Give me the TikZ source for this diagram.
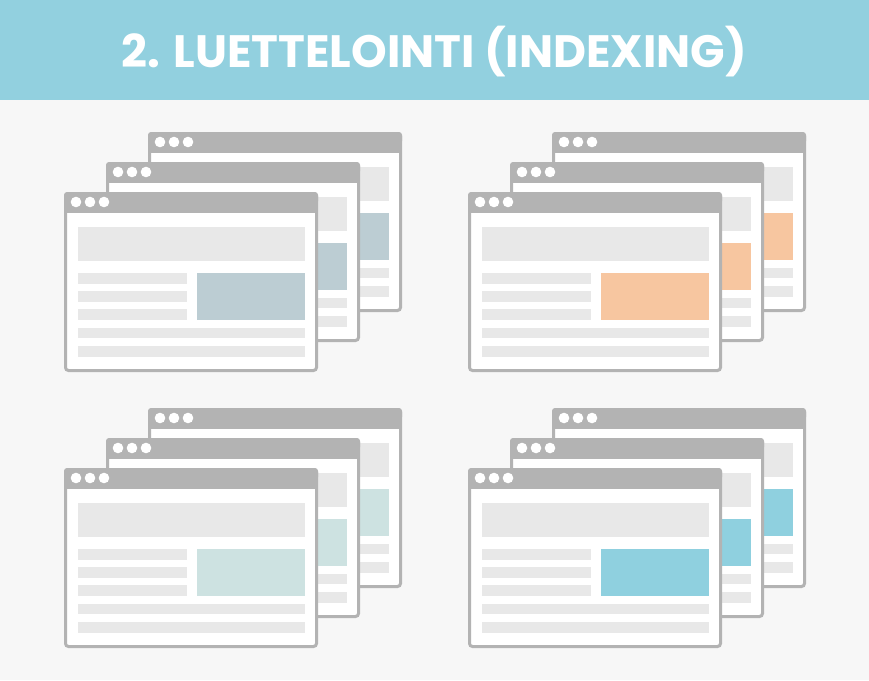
\documentclass[tikz,border=0pt]{standalone}
\usepackage{fontspec}
\newfontfamily\titlefont{Poppins}
\definecolor{headbg}{HTML}{92D0DF}
\definecolor{pagebg}{HTML}{F7F7F7}
\definecolor{frame}{HTML}{B3B3B3}
\definecolor{bar}{HTML}{E8E8E8}
\definecolor{cslate}{HTML}{BCCDD3}
\definecolor{cpeach}{HTML}{F7C6A0}
\definecolor{cmint}{HTML}{CDE2E1}
\definecolor{cblue}{HTML}{8FD0DF}
\tikzset{
  winframe/.style={draw=frame, line width=3pt, fill=white, rounded corners=3pt},
  titlebar/.style={fill=frame},
  windot/.style={fill=white},
  greybar/.style={fill=bar}
}
\newcommand\browserwin[3]{%
  \begin{scope}[shift={(#1,#2)}]
    \draw[winframe] (1.5,1.5) rectangle (252.5,178.5);
    \fill[titlebar, rounded corners=3pt] (0,0) rectangle (254,12);
    \fill[titlebar] (0,6) rectangle (254,21);
    \fill[windot] (12,10) circle (5.3);
    \fill[windot] (26,10) circle (5.3);
    \fill[windot] (40,10) circle (5.3);
    \fill[greybar] (14,35) rectangle (241,69);
    \fill[greybar] (14,81) rectangle (123,92);
    \fill[greybar] (14,99) rectangle (123,110);
    \fill[greybar] (14,117) rectangle (123,128);
    \fill[#3] (133,81) rectangle (241,128);
    \fill[greybar] (14,136) rectangle (241,146);
    \fill[greybar] (14,154) rectangle (241,165);
  \end{scope}}
\newcommand\browserstack[3]{%
  \browserwin{#1+84}{#2-60}{#3}%
  \browserwin{#1+42}{#2-30}{#3}%
  \browserwin{#1}{#2}{#3}}
\begin{document}
\begin{tikzpicture}[x=1pt,y=-1pt]
  \useasboundingbox (0,0) rectangle (869,680);
  \fill[pagebg] (0,0) rectangle (869,680);
  \fill[headbg] (0,0) rectangle (869,100);
  \node[text=white, inner sep=0pt] (title) at (434.5,52)
    {\resizebox{625pt}{!}{\titlefont\bfseries 2. LUETTELOINTI (INDEXING)}};
  \browserstack{64}{192}{cslate}
  \browserstack{468}{192}{cpeach}
  \browserstack{64}{468}{cmint}
  \browserstack{468}{468}{cblue}
\end{tikzpicture}
\end{document}
